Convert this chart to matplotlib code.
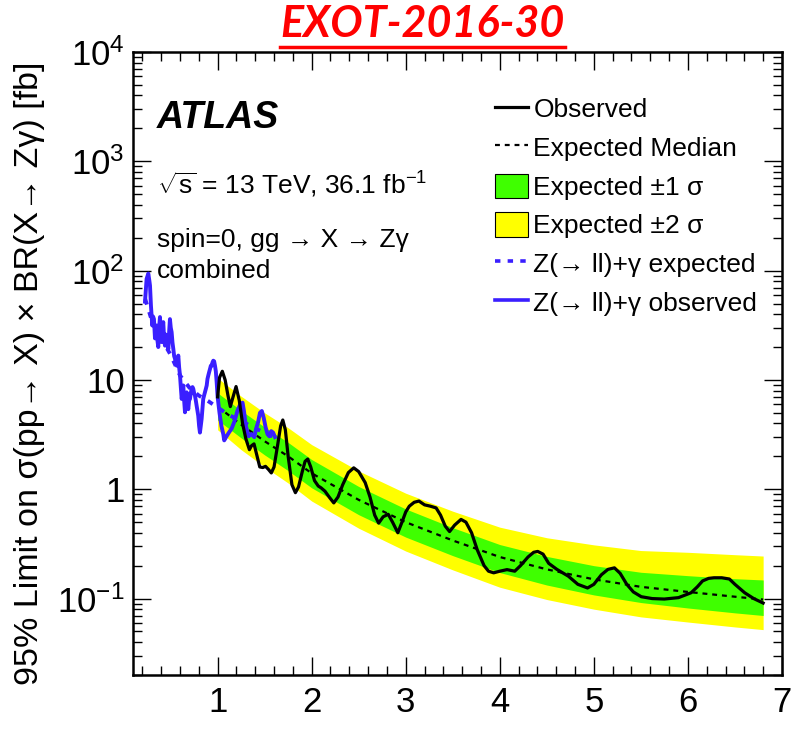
import numpy as np
import matplotlib.pyplot as plt
from matplotlib.lines import Line2D
from matplotlib.patches import Patch
from matplotlib.ticker import MultipleLocator, LogLocator, FixedLocator, FixedFormatter, NullFormatter

plt.rcParams['font.family'] = ['Liberation Sans', 'DejaVu Sans']
plt.rcParams['mathtext.fontset'] = 'custom'
plt.rcParams['mathtext.rm'] = 'Liberation Sans'
plt.rcParams['mathtext.it'] = 'Liberation Sans:italic'
plt.rcParams['mathtext.bf'] = 'Liberation Sans:bold'
plt.rcParams['mathtext.default'] = 'regular'

# expected limit and bands (combined)
mass_exp = [1.0, 1.25, 1.5, 1.75, 2.0, 2.5, 3.0, 3.5, 4.0, 4.5, 5.0, 5.5, 6.0, 6.5, 6.8]
exp_median = [5.7, 3.9, 2.75, 2.0, 1.4, 0.80, 0.50, 0.34, 0.24, 0.185, 0.150, 0.128, 0.115, 0.104, 0.098]
exp_up2 = [10.4, 7.1, 5.0, 3.65, 2.56, 1.47, 0.92, 0.63, 0.45, 0.36, 0.31, 0.275, 0.265, 0.252, 0.245]
exp_up1 = [7.6, 5.25, 3.7, 2.68, 1.87, 1.06, 0.66, 0.445, 0.312, 0.243, 0.20, 0.174, 0.162, 0.152, 0.148]
exp_dn1 = [4.3, 2.95, 2.06, 1.48, 1.03, 0.585, 0.365, 0.247, 0.173, 0.133, 0.108, 0.092, 0.082, 0.074, 0.070]
exp_dn2 = [3.5, 2.3, 1.6, 1.14, 0.78, 0.44, 0.272, 0.183, 0.127, 0.098, 0.080, 0.068, 0.061, 0.055, 0.052]

# observed limit (combined)
obs_mass = [1.00, 1.02, 1.05, 1.08, 1.11, 1.135, 1.16, 1.196, 1.23, 1.265, 1.30, 1.338, 1.36, 1.387,
            1.42, 1.448, 1.48, 1.509, 1.54, 1.571, 1.60, 1.64, 1.67, 1.693, 1.72, 1.75, 1.79, 1.827,
            1.86, 1.90, 1.93, 1.958, 1.99, 2.03, 2.07, 2.10, 2.141, 2.19, 2.235, 2.28, 2.33, 2.39,
            2.447, 2.50, 2.569, 2.62, 2.67, 2.712, 2.76, 2.814, 2.86, 2.916, 2.96, 3.00, 3.038, 3.09,
            3.14, 3.20, 3.262, 3.323, 3.37, 3.42, 3.466, 3.52, 3.588, 3.64, 3.70, 3.76, 3.833, 3.88,
            3.935, 4.00, 4.077, 4.159, 4.22, 4.30, 4.36, 4.403, 4.46, 4.52, 4.607, 4.73, 4.83, 4.933,
            5.00, 5.08, 5.15, 5.219, 5.28, 5.35, 5.42, 5.504, 5.62, 5.749, 5.90, 6.034, 6.10, 6.156,
            6.22, 6.278, 6.36, 6.441, 6.50, 6.604, 6.70, 6.80]
obs_limit = [7.0, 10.5, 12.0, 10.0, 7.2, 5.7, 6.8, 8.7, 6.5, 4.0, 2.9, 2.3, 2.5, 2.6,
             2.0, 1.6, 1.58, 1.62, 1.52, 1.41, 1.6, 2.6, 3.8, 4.3, 3.5, 2.0, 1.1, 0.93,
             1.05, 1.45, 1.8, 1.89, 1.6, 1.2, 1.07, 1.03, 0.96, 0.84, 0.75, 0.85, 1.1, 1.42,
             1.57, 1.45, 1.15, 0.85, 0.58, 0.49, 0.56, 0.59, 0.50, 0.40, 0.50, 0.62, 0.70, 0.76,
             0.78, 0.72, 0.70, 0.675, 0.58, 0.46, 0.41, 0.47, 0.53, 0.50, 0.40, 0.28, 0.20, 0.178,
             0.172, 0.178, 0.184, 0.178, 0.20, 0.24, 0.265, 0.27, 0.255, 0.21, 0.185, 0.16, 0.135, 0.125,
             0.135, 0.165, 0.185, 0.191, 0.17, 0.135, 0.115, 0.104, 0.100, 0.099, 0.102, 0.113, 0.128, 0.145,
             0.153, 0.155, 0.155, 0.151, 0.135, 0.113, 0.100, 0.091]

# Z(->ll)+gamma channel
ll_mass = [0.228, 0.245, 0.263, 0.275, 0.281, 0.291, 0.305, 0.314, 0.323, 0.334, 0.343, 0.352, 0.360,
           0.369, 0.378, 0.387, 0.396, 0.405, 0.414, 0.422, 0.431, 0.440, 0.449, 0.458, 0.467, 0.476,
           0.485, 0.493, 0.502, 0.511, 0.520, 0.529, 0.538, 0.547, 0.556, 0.565, 0.574, 0.582, 0.591,
           0.600, 0.609, 0.618, 0.627, 0.635, 0.644, 0.653, 0.662, 0.671, 0.680, 0.688, 0.697, 0.706,
           0.715, 0.724, 0.733, 0.741, 0.750, 0.759, 0.768, 0.777, 0.786, 0.794, 0.803, 0.812, 0.821,
           0.830, 0.839, 0.847, 0.856, 0.865, 0.875, 0.884, 0.892, 0.901, 0.910, 0.919, 0.928, 0.937,
           0.946, 0.954, 0.963, 0.972, 0.981, 0.990, 1.000, 1.02, 1.04, 1.06, 1.07, 1.09, 1.12, 1.15,
           1.18, 1.21, 1.24, 1.265, 1.28, 1.30, 1.33, 1.36, 1.39, 1.41, 1.43, 1.45, 1.47, 1.49, 1.51,
           1.53, 1.55, 1.57, 1.59, 1.61]
ll_obs = [52, 84, 94, 80, 73, 48, 31.5, 38, 36, 24, 30, 31.5, 23,
          20, 30, 37.6, 26, 22.2, 30, 33.8, 24, 20.6, 26, 25.5, 21, 19.2,
          28, 36, 30, 27.4, 22, 19.2, 16.5, 15.6, 14, 13.5, 15.5, 16.7, 13,
          11.0, 8.5, 6.7, 7.8, 8.9, 6.5, 5.06, 6.5, 7.7, 6.0, 5.4, 6.5, 6.7,
          7.6, 8.3, 8.6, 8.3, 7.6, 7.2, 6.5, 5.8, 5.2, 4.7, 3.8, 3.3, 3.8,
          4.4, 5.5, 6.7, 7.2, 7.7, 8.3, 8.9, 10.2, 11.0, 11.8, 12.6, 13.5, 13.5,
          14.5, 15.0, 14.8, 13.5, 12.0, 9.5, 7.0, 5.0, 3.8, 3.2, 2.8, 3.0, 3.3, 3.6,
          4.2, 5.2, 6.0, 6.2, 5.2, 3.8, 3.05, 3.2, 3.0, 3.6, 4.1, 5.0, 5.2, 4.5, 3.7,
          3.2, 3.05, 3.4, 3.3, 3.0]
ll_exp_mass = [0.23, 0.3, 0.4, 0.5, 0.6, 0.7, 0.8, 0.9, 1.0, 1.1, 1.2, 1.3, 1.4, 1.5, 1.6]
ll_exp = [55, 35, 24, 17, 11, 8.5, 7.2, 6.4, 5.6, 4.9, 4.4, 4.0, 3.6, 3.3, 3.0]

legend_labels = ['Observed', 'Expected Median', 'Expected \u00b11 \u03c3', 'Expected \u00b12 \u03c3',
                 'Z(\u2192 ll)+\u03b3 expected', 'Z(\u2192 ll)+\u03b3 observed']
ytick_vals = [0.1, 1, 10, 100, 1000, 10000]
ytick_labels = [r'$10^{-1}$', '1', '10', r'$10^{2}$', r'$10^{3}$', r'$10^{4}$']

green = '#3fff00'
yellow = '#ffff00'
blue = '#3a1fff'

fig = plt.figure(figsize=(8.02, 7.29), dpi=100)
ax = fig.add_axes([0.1658, 0.0741, 0.8092, 0.8546])

ax.fill_between(mass_exp, exp_dn2, exp_up2, color=yellow, lw=0, zorder=1)
ax.fill_between(mass_exp, exp_dn1, exp_up1, color=green, lw=0, zorder=2)
ax.plot(mass_exp, exp_median, color='black', ls=(0, (2.2, 2.2)), lw=1.6, zorder=3)
ax.plot(ll_exp_mass, ll_exp, color=blue, ls=(0, (1.5, 2.0)), lw=2.8, zorder=4)
ax.plot(ll_mass, ll_obs, color=blue, lw=2.8, zorder=4)
ax.plot(obs_mass, obs_limit, color='black', lw=2.3, zorder=5)

ax.set_yscale('log')
ax.set_xlim(0.1, 7)
ax.set_ylim(0.02, 1e4)

ax.xaxis.set_major_locator(MultipleLocator(1))
ax.xaxis.set_minor_locator(MultipleLocator(0.2))
ax.yaxis.set_major_locator(FixedLocator(ytick_vals))
ax.yaxis.set_major_formatter(FixedFormatter(ytick_labels))
ax.yaxis.set_minor_locator(LogLocator(base=10, subs=np.arange(2, 10)))
ax.yaxis.set_minor_formatter(NullFormatter())

ax.tick_params(which='both', direction='in', top=True, right=True, width=1.0, color='black')
ax.tick_params(which='major', length=13)
ax.tick_params(which='minor', length=6.5)
ax.tick_params(axis='x', which='major', labelsize=25, pad=8)
ax.tick_params(axis='y', which='major', labelsize=25, pad=6)
for s in ax.spines.values():
    s.set_linewidth(1.8)

fig.text(0.037, 0.488, '95% Limit on \u03c3(pp\u2192 X) \u00d7 BR(X\u2192 Z\u03b3) [fb]',
         rotation=90, ha='center', va='center', fontsize=24.5)

ax.text(0.037, 0.894, 'ATLAS', transform=ax.transAxes, fontsize=27, fontweight='bold',
        fontstyle='italic', va='center', ha='left')
ax.text(0.037, 0.786, r'$\sqrt{s}$ = 13 TeV, 36.1 fb$^{-1}$', transform=ax.transAxes,
        fontsize=19, va='center', ha='left')
ax.text(0.037, 0.698, 'spin=0, gg \u2192 X \u2192 Z\u03b3', transform=ax.transAxes,
        fontsize=19, va='center', ha='left')
ax.text(0.037, 0.648, 'combined', transform=ax.transAxes, fontsize=19, va='center', ha='left')

handles = [Line2D([], [], color='black', lw=2.3),
           Line2D([], [], color='black', ls=(0, (2.2, 2.2)), lw=1.6),
           Patch(facecolor=green, edgecolor='black', lw=0.8),
           Patch(facecolor=yellow, edgecolor='black', lw=0.8),
           Line2D([], [], color=blue, ls=(0, (1.5, 2.0)), lw=2.6),
           Line2D([], [], color=blue, lw=2.6)]
ax.legend(handles, legend_labels, loc='upper left', bbox_to_anchor=(0.558, 0.929), frameon=False,
          fontsize=19, handlelength=1.25, handleheight=1.05, handletextpad=0.2, labelspacing=0.47,
          borderaxespad=0, borderpad=0)

title = fig.text(0.527, 0.967, 'EXOT-2016-30', color='#ff0000', fontsize=31, fontweight='bold',
                 fontstyle='italic', family=['Lato', 'DejaVu Sans'], ha='center', va='center')
fig.canvas.draw()
bb = title.get_window_extent().transformed(fig.transFigure.inverted())
fig.add_artist(Line2D([bb.x0, bb.x1], [bb.y0 - 0.004, bb.y0 - 0.004], color='#ff0000', lw=2.5,
                      transform=fig.transFigure))

fig.savefig('out.png', dpi=100)
